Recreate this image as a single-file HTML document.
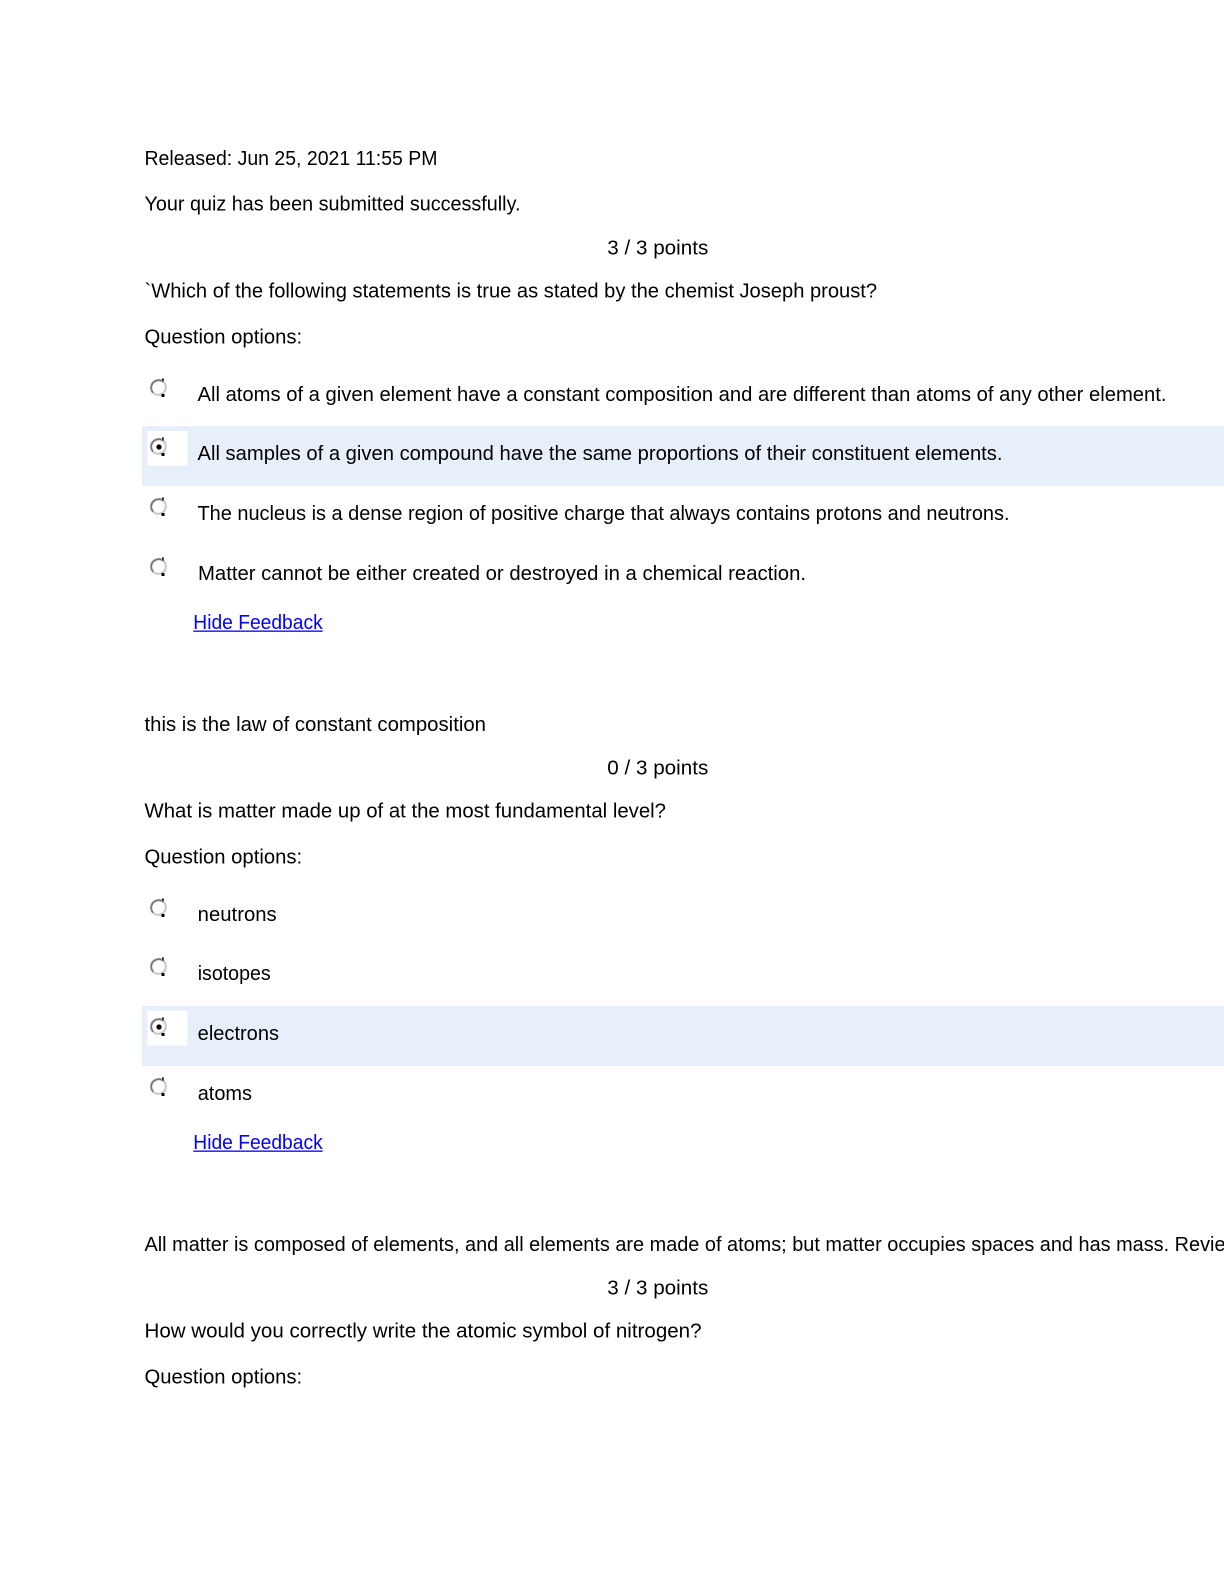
<!DOCTYPE html>
<html>
<head>
<meta charset="utf-8">
<style>
  html, body { margin:0; padding:0; background:#fff; }
  svg { display:block; }
  text { font-family: "Liberation Sans", sans-serif; font-size:20px; fill:#000; }
  .lk { fill:#0000ff; }
</style>
</head>
<body>
<svg width="1224" height="1584" viewBox="0 0 1224 1584" xmlns="http://www.w3.org/2000/svg">
  <defs>
    <g id="r">
      <circle cx="0" cy="0" r="7.5" fill="#fff"/>
      <path d="M -5.3 5.3 A 7.5 7.5 0 0 1 5.3 -5.3" stroke="#7a7a7a" stroke-width="2" fill="none"/>
      <path d="M 5.3 -5.3 A 7.5 7.5 0 0 1 -5.3 5.3" stroke="#c8c8c8" stroke-width="2" fill="none"/>
      <rect x="3" y="6.5" width="3" height="3" fill="#000"/>
      <rect x="3.5" y="-9" width="2" height="2" fill="#222"/>
    </g>
    <g id="rs">
      <use href="#r"/>
      <circle cx="0.5" cy="0.5" r="2.6" fill="#000"/>
    </g>
  </defs>

  <rect x="0" y="0" width="1224" height="1584" fill="#fff"/>

  <!-- Header -->
  <text x="144.5" y="165" textLength="293" lengthAdjust="spacingAndGlyphs">Released: Jun 25, 2021 11:55 PM</text>
  <text x="144.5" y="210.7" textLength="376" lengthAdjust="spacingAndGlyphs">Your quiz has been submitted successfully.</text>

  <!-- Question 1 -->
  <text x="607.3" y="254.3" textLength="101" lengthAdjust="spacingAndGlyphs">3 / 3 points</text>
  <text x="144.5" y="297.3" textLength="732.6" lengthAdjust="spacingAndGlyphs">`Which of the following statements is true as stated by the chemist Joseph proust?</text>
  <text x="144.5" y="343.3" textLength="157.6" lengthAdjust="spacingAndGlyphs">Question options:</text>

  <rect x="142" y="426" width="1082" height="60" fill="#e6effa"/>
  <rect x="147.3" y="431" width="40" height="34.7" fill="#fff"/>

  <use href="#r" x="158.5" y="387.5"/>
  <use href="#rs" x="158.5" y="446.5"/>
  <use href="#r" x="158.5" y="506.5"/>
  <use href="#r" x="158.5" y="566.5"/>

  <text x="197.5" y="401" textLength="969" lengthAdjust="spacingAndGlyphs">All atoms of a given element have a constant composition and are different than atoms of any other element.</text>
  <text x="197.5" y="460" textLength="805" lengthAdjust="spacingAndGlyphs">All samples of a given compound have the same proportions of their constituent elements.</text>
  <text x="197.5" y="520" textLength="812" lengthAdjust="spacingAndGlyphs">The nucleus is a dense region of positive charge that always contains protons and neutrons.</text>
  <text x="198" y="580" textLength="608" lengthAdjust="spacingAndGlyphs">Matter cannot be either created or destroyed in a chemical reaction.</text>

  <text class="lk" x="193.3" y="629" textLength="129.4" lengthAdjust="spacingAndGlyphs">Hide Feedback</text>
  <rect x="193.3" y="630.5" width="129.4" height="1.3" fill="#0000ff"/>

  <text x="144.5" y="731" textLength="341.5" lengthAdjust="spacingAndGlyphs">this is the law of constant composition</text>

  <!-- Question 2 -->
  <text x="607.3" y="774.3" textLength="101" lengthAdjust="spacingAndGlyphs">0 / 3 points</text>
  <text x="144.5" y="817.7" textLength="521.5" lengthAdjust="spacingAndGlyphs">What is matter made up of at the most fundamental level?</text>
  <text x="144.5" y="863.3" textLength="157.6" lengthAdjust="spacingAndGlyphs">Question options:</text>

  <rect x="142" y="1006" width="1082" height="60" fill="#e6effa"/>
  <rect x="147.3" y="1011" width="40" height="34.7" fill="#fff"/>

  <use href="#r" x="158.5" y="907.5"/>
  <use href="#r" x="158.5" y="966.5"/>
  <use href="#rs" x="158.5" y="1026.5"/>
  <use href="#r" x="158.5" y="1086.5"/>

  <text x="197.7" y="921" textLength="79" lengthAdjust="spacingAndGlyphs">neutrons</text>
  <text x="197.7" y="980" textLength="73" lengthAdjust="spacingAndGlyphs">isotopes</text>
  <text x="197.7" y="1040" textLength="81.3" lengthAdjust="spacingAndGlyphs">electrons</text>
  <text x="197.7" y="1100" textLength="54.3" lengthAdjust="spacingAndGlyphs">atoms</text>

  <text class="lk" x="193.3" y="1149" textLength="129.4" lengthAdjust="spacingAndGlyphs">Hide Feedback</text>
  <rect x="193.3" y="1150.5" width="129.4" height="1.3" fill="#0000ff"/>

  <text x="144.5" y="1251" textLength="1081" lengthAdjust="spacingAndGlyphs">All matter is composed of elements, and all elements are made of atoms; but matter occupies spaces and has mass. Revie</text>

  <!-- Question 3 -->
  <text x="607.3" y="1294.3" textLength="101" lengthAdjust="spacingAndGlyphs">3 / 3 points</text>
  <text x="144.5" y="1337.7" textLength="557" lengthAdjust="spacingAndGlyphs">How would you correctly write the atomic symbol of nitrogen?</text>
  <text x="144.5" y="1383.3" textLength="157.6" lengthAdjust="spacingAndGlyphs">Question options:</text>
</svg>
</body>
</html>
